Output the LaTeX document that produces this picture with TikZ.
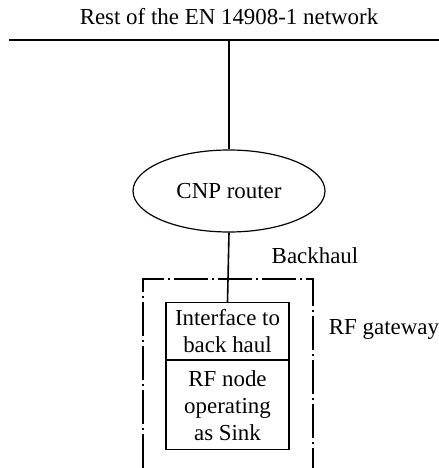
\documentclass[tikz,border=0pt]{standalone}
\usepackage{fontspec}
\setmainfont{Liberation Serif}
\usetikzlibrary{shapes.geometric}
\begin{document}
\begin{tikzpicture}[x=1bp,y=-1bp,
  lbl/.style={font=\fontsize{23}{27}\selectfont, inner sep=0pt},
  wire/.style={line width=1.6pt},
  box/.style={draw, line width=1.2pt, minimum width=123bp, align=center, font=\fontsize{23}{27}\selectfont, inner sep=0pt},
  gate/.style={line width=1.2pt, dash pattern=on 34bp off 4bp on 2bp off 4bp}]
\useasboundingbox (0,0) rectangle (439,468);
\node[lbl] (title) at (229,17) {Rest of the EN 14908-1 network};
\coordinate (busL) at (9,40);
\coordinate (busR) at (439,40);
\coordinate (busM) at (229,40);
\draw[wire] (busL) -- (busR);
\node[draw, ellipse, line width=1.2pt, minimum width=192bp, minimum height=82bp, lbl] (cnp) at (229,191) {CNP router};
\node[box, minimum height=57bp, anchor=north] (intf) at (227.5,302) {Interface to\\back haul};
\node[box, minimum height=89bp, anchor=north] (rf) at (intf.south) {RF node\\operating\\as Sink};
\draw[wire] (busM) -- (cnp.north);
\draw[wire] (cnp.south) -- (intf.north);
\node[lbl] (bh) at (315,256) {Backhaul};
\node[lbl] (gw) at (384,329) {RF gateway};
\coordinate (gBL) at (143,468);
\coordinate (gTL) at (143,279);
\coordinate (gTR) at (313,279);
\coordinate (gBR) at (313,468);
\draw[gate] (gBL) -- (gTL) -- (gTR) -- (gBR);
\end{tikzpicture}
\end{document}
